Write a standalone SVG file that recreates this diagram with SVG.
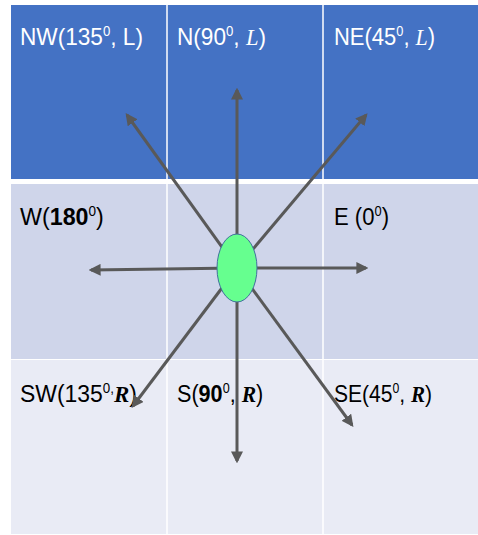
<svg xmlns="http://www.w3.org/2000/svg" width="478" height="535" viewBox="0 0 478 535">
<style>
.lbl{font-family:"Liberation Sans",Arial,sans-serif;font-size:24px}
.w{fill:#ffffff}
.k{fill:#000000}
.sup{font-size:14px}
.it{font-family:"Liberation Serif","Times New Roman",serif;font-style:italic}
.b{font-weight:bold}
.conn{stroke:#595959;stroke-width:3;fill:none;marker-end:url(#ah)}
.sep{stroke:#ffffff;stroke-width:1.5}
</style>
<defs>
<marker id="ah" viewBox="0 0 10 10" refX="8" refY="5" markerWidth="4" markerHeight="4" orient="auto" markerUnits="strokeWidth">
<path d="M0,0 L10,5 L0,10 z" fill="#595959"/>
</marker>
</defs>
<rect width="478" height="535" fill="#ffffff"/>
<g id="grid">
<rect x="11" y="5" width="467" height="174" fill="#4472C4"/>
<rect x="11" y="184" width="467" height="175" fill="#CFD5EA"/>
<rect x="11" y="360" width="467" height="174" fill="#E9EBF5"/>
<line class="sep" x1="167" y1="5" x2="167" y2="534"/>
<line class="sep" x1="323" y1="5" x2="323" y2="534"/>
</g>
<g id="labels">
<g id="nw"><text class="lbl w" transform="translate(20,45) scale(0.943,1)">NW(135<tspan class="sup" dy="-9">0</tspan><tspan dy="9">, L)</tspan></text></g>
<g id="n"><text class="lbl w" transform="translate(177,45) scale(0.943,1)">N(90<tspan class="sup" dy="-9">0</tspan><tspan dy="9">, </tspan><tspan class="it">L</tspan>)</text></g>
<g id="ne"><text class="lbl w" transform="translate(334,45) scale(0.915,1)">NE(45<tspan class="sup" dy="-9">0</tspan><tspan dy="9">, </tspan><tspan class="it">L</tspan>)</text></g>
<g id="w"><text class="lbl k" transform="translate(20,225) scale(0.97,1)">W(<tspan class="b">180</tspan><tspan class="sup" dy="-9">0</tspan><tspan dy="9">)</tspan></text></g>
<g id="e"><text class="lbl k" transform="translate(334,225) scale(0.92,1)">E (0<tspan class="sup" dy="-9">0</tspan><tspan dy="9">)</tspan></text></g>
<g id="sw"><text class="lbl k" transform="translate(20,402) scale(0.956,1)">SW(135<tspan class="sup" dy="-9">0,</tspan><tspan dy="9" class="it b">R</tspan>)</text></g>
<g id="s"><text class="lbl k" transform="translate(177,402) scale(0.9,1)">S(<tspan class="b">90</tspan><tspan class="sup" dy="-9">0</tspan><tspan dy="9">, </tspan><tspan class="it b">R</tspan>)</text></g>
<g id="se"><text class="lbl k" transform="translate(334,402) scale(0.877,1)">SE(45<tspan class="sup" dy="-9">0</tspan><tspan dy="9">, </tspan><tspan class="it b">R</tspan>)</text></g>
</g>
<g id="connectors">
<line class="conn" x1="237" y1="268" x2="237" y2="90"/>
<line class="conn" x1="237" y1="268" x2="127" y2="115"/>
<line class="conn" x1="237" y1="268" x2="366" y2="115"/>
<line class="conn" x1="237" y1="268" x2="91" y2="270"/>
<line class="conn" x1="237" y1="268" x2="366" y2="268"/>
<line class="conn" x1="237" y1="268" x2="133" y2="406"/>
<line class="conn" x1="237" y1="268" x2="237" y2="461"/>
<line class="conn" x1="237" y1="268" x2="352" y2="425"/>
</g>
<g id="center">
<ellipse cx="237" cy="268" rx="20" ry="34" fill="#66FF8F" stroke="#41719C" stroke-width="1"/>
</g>
</svg>
